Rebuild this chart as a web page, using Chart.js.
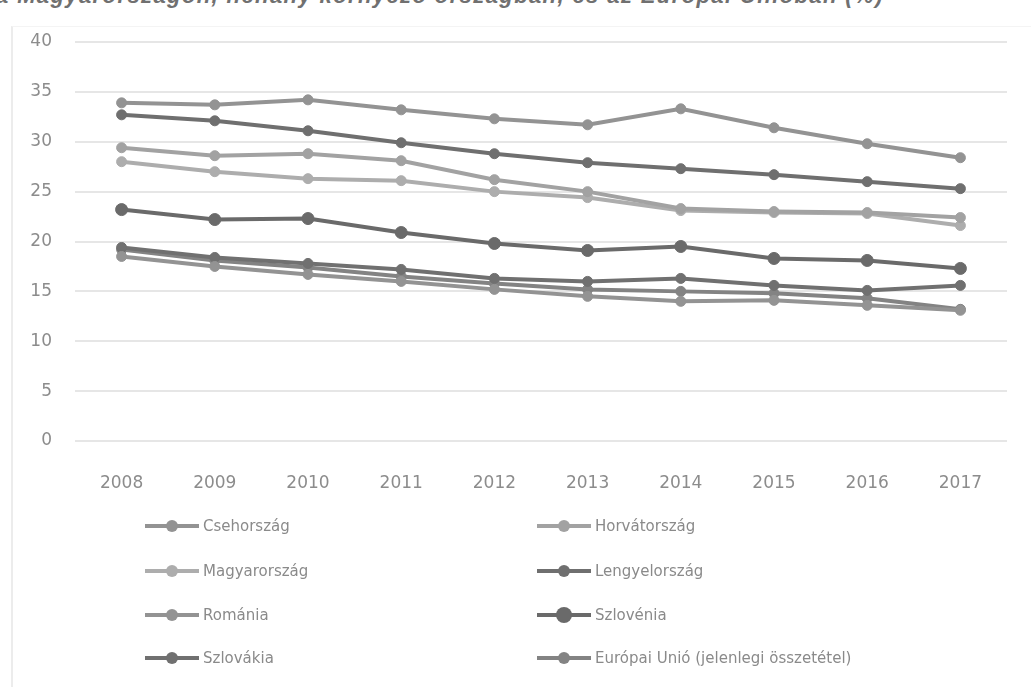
<!DOCTYPE html>
<html lang="hu">
<head>
<meta charset="utf-8">
<title>Chart</title>
<script src="https://cdn.jsdelivr.net/npm/chart.js@4"></script>
<style>
    html, body {
        margin: 0;
        padding: 0;
        background: #fff;
    }
    #wrap {
        position: relative;
        width: 1031px;
        height: 687px;
        overflow: hidden;
        font-family: 'DejaVu Sans', sans-serif;
    }
    #title {
        position: absolute;
        left: -4px;
        top: -17px;
        white-space: nowrap;
        font: italic bold 22px 'Liberation Sans', sans-serif;
        color: #707070;
        letter-spacing: 1.4px;
    }
    #frame {
        position: absolute;
        left: 11px;
        top: 26px;
        width: 1040px;
        height: 700px;
        border-left: 2px solid #ececec;
        border-top: 1px solid #f4f4f4;
    }
    #chart {
        position: absolute;
        left: 0;
        top: 0;
    }
    #legend {
        position: absolute;
        left: 0;
        top: 0;
        width: 1031px;
        height: 687px;
    }
    .legend-item {
        position: absolute;
        display: flex;
        align-items: center;
        font-size: 15px;
        color: #8a8a8a;
        white-space: nowrap;
    }
    .legend-sample {
        position: relative;
        width: 54px;
        height: 14px;
        margin-right: 4px;
    }
    .legend-sample .ln {
        position: absolute;
        left: 0;
        right: 0;
        top: 5px;
        height: 4px;
    }
    .legend-sample .dot {
        position: absolute;
        left: 21px;
        top: 1px;
        width: 12px;
        height: 12px;
        border-radius: 50%;
    }
</style>
</head>
<body>
<div id="wrap">
    <div id="frame"></div>
    <div id="title">a Magyarországon, néhány környező országban, és az Európai Unióban (%)</div>
    <canvas id="chart" width="1031" height="500"></canvas>
    <div id="legend"></div>
</div>
<script>
// ============================================================================
// Data
// ============================================================================

const years = ['2008', '2009', '2010', '2011', '2012', '2013', '2014', '2015', '2016', '2017'];

const csehorszag    = [33.9, 33.7, 34.2, 33.2, 32.3, 31.7, 33.3, 31.4, 29.8, 28.4];
const horvatorszag  = [29.4, 28.6, 28.8, 28.1, 26.2, 25.0, 23.3, 23.0, 22.9, 22.4];
const magyarorszag  = [28.0, 27.0, 26.3, 26.1, 25.0, 24.4, 23.1, 22.9, 22.8, 21.6];
const lengyelorszag = [32.7, 32.1, 31.1, 29.9, 28.8, 27.9, 27.3, 26.7, 26.0, 25.3];
const romania       = [18.5, 17.5, 16.7, 16.0, 15.2, 14.5, 14.0, 14.1, 13.6, 13.1];
const szlovenia     = [23.2, 22.2, 22.3, 20.9, 19.8, 19.1, 19.5, 18.3, 18.1, 17.3];
const szlovakia     = [19.4, 18.4, 17.8, 17.2, 16.3, 16.0, 16.3, 15.6, 15.1, 15.6];
const europaiUnio   = [19.2, 18.1, 17.4, 16.5, 15.8, 15.2, 15.0, 14.8, 14.3, 13.2];

const yTicks = [0, 5, 10, 15, 20, 25, 30, 35, 40];

// ============================================================================
// Helpers
// ============================================================================

/**
 * Build one line dataset
 */
function makeSeries(label, data, color, radius = 5) {
    return {
        label: label,
        data: data,
        borderColor: color,
        backgroundColor: color,
        borderWidth: 4,
        pointRadius: radius,
        pointBackgroundColor: color,
        pointBorderColor: color,
        pointBorderWidth: 1,
        tension: 0
    };
}

/**
 * HTML legend in two columns
 */
function buildLegend(chart) {
    const legend = document.getElementById('legend');
    const colX = [145, 537];
    const rowY = [526, 571, 615, 658];
    chart.data.datasets.forEach(function(ds, i) {
        const item = document.createElement('div');
        item.className = 'legend-item';
        item.style.left = colX[i % 2] + 'px';
        item.style.top = (rowY[Math.floor(i / 2)] - 9) + 'px';
        const big = ds.pointRadius > 5;
        item.innerHTML = `
            <span class="legend-sample">
                <span class="ln" style="background:${ds.borderColor}"></span>
                <span class="dot" style="background:${ds.borderColor};${big ? 'width:16px;height:16px;left:19px;top:-1px;' : ''}"></span>
            </span>
            <span>${ds.label}</span>
        `;
        legend.appendChild(item);
    });
}

// ============================================================================
// Chart
// ============================================================================

const tickFont = { family: 'DejaVu Sans', size: 17 };

const chart = new Chart(document.getElementById('chart').getContext('2d'), {
    type: 'line',
    data: {
        labels: years,
        datasets: [
            makeSeries('Csehország', csehorszag, '#939393'),
            makeSeries('Horvátország', horvatorszag, '#a2a2a2'),
            makeSeries('Magyarország', magyarorszag, '#adadad'),
            makeSeries('Lengyelország', lengyelorszag, '#6f6f6f'),
            makeSeries('Románia', romania, '#939393'),
            makeSeries('Szlovénia', szlovenia, '#6a6a6a', 6),
            makeSeries('Szlovákia', szlovakia, '#707070'),
            makeSeries('Európai Unió (jelenlegi összetétel)', europaiUnio, '#838383')
        ]
    },
    options: {
        responsive: false,
        animation: false,
        layout: {
            padding: { top: 42, right: 24, left: 0, bottom: 0 }
        },
        plugins: {
            legend: { display: false },
            tooltip: { enabled: false }
        },
        scales: {
            x: {
                offset: true,
                grid: { display: false },
                border: { display: false },
                ticks: {
                    color: '#8c8c8c',
                    font: tickFont,
                    padding: 24,
                    maxRotation: 0
                },
                afterFit: function(scale) {
                    scale.height = 59;
                }
            },
            y: {
                min: 0,
                max: 40,
                afterBuildTicks: function(scale) {
                    scale.ticks = yTicks.map(v => ({ value: v }));
                },
                grid: {
                    color: '#e6e6e6',
                    lineWidth: 2,
                    drawTicks: false
                },
                border: { display: false },
                ticks: {
                    color: '#8c8c8c',
                    font: tickFont,
                    padding: 23
                },
                afterFit: function(scale) {
                    scale.width = 75;
                }
            }
        }
    }
});

buildLegend(chart);
</script>
</body>
</html>
